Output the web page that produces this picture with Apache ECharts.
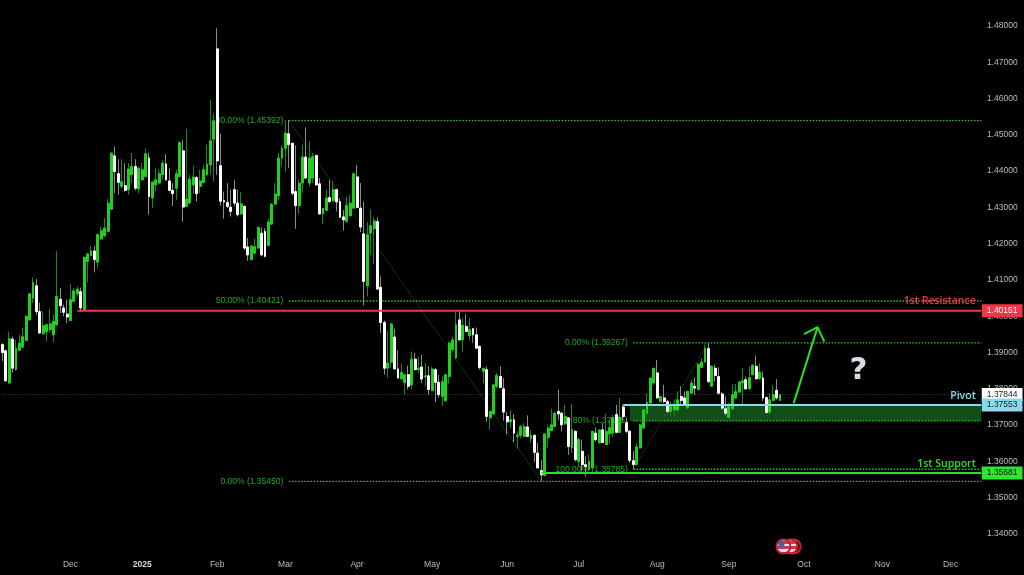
<!DOCTYPE html>
<html><head><meta charset="utf-8">
<style>html,body{margin:0;padding:0;background:#000}#c{width:1024px;height:575px}</style>
<script src="https://cdn.jsdelivr.net/npm/echarts@6/dist/echarts.min.js"></script>
</head><body><div id="c"></div>
<script>
const opens=[1.3922,1.3905,1.3816,1.3937,1.3853,1.3906,1.3915,1.3933,1.3990,1.4050,
1.4084,1.4013,1.3952,1.3958,1.3963,1.3949,1.3976,1.4047,1.4023,1.4006,
1.3988,1.4041,1.4062,1.4068,1.4018,1.4151,1.4167,1.4180,1.4149,1.4213,
1.4222,1.4234,1.4295,1.4442,1.4393,1.4358,1.4360,1.4349,1.4390,1.4413,
1.4351,1.4376,1.4385,1.4436,1.4326,1.4362,1.4367,1.4390,1.4420,1.4373,
1.4347,1.4353,1.4385,1.4456,1.4303,1.4312,1.4362,1.4382,1.4358,1.4369,
1.4390,1.4417,1.4488,1.4737,1.4415,1.4319,1.4314,1.4301,1.4349,1.4312,
1.4282,1.4303,1.4191,1.4156,1.4174,1.4188,1.4229,1.4234,1.4195,1.4254,
1.4309,1.4332,1.4436,1.4463,1.4503,1.4477,1.4344,1.4305,1.4367,1.4439,
1.4367,1.4381,1.4443,1.4365,1.4282,1.4292,1.4327,1.4318,1.4349,1.4316,
1.4274,1.4261,1.4277,1.4298,1.4384,1.4298,1.4227,1.4084,1.4229,1.4241,
1.4261,1.4080,1.3983,1.3857,1.3873,1.3943,1.3855,1.3828,1.3817,1.3839,
1.3811,1.3882,1.3853,1.3860,1.3833,1.3836,1.3795,1.3853,1.3818,1.3779,
1.3767,1.3834,1.3908,1.3885,1.3990,1.3935,1.3972,1.3947,1.3966,1.3949,
1.3917,1.3848,1.3853,1.3720,1.3731,1.3807,1.3834,1.3800,1.3724,1.3709,
1.3715,1.3669,1.3672,1.3669,1.3695,1.3663,1.3672,1.3623,1.3575,1.3561,
1.3666,1.3685,1.3696,1.3738,1.3733,1.3703,1.3720,1.3637,1.3683,1.3600,
1.3628,1.3591,1.3577,1.3582,1.3678,1.3651,1.3687,1.3646,1.3676,1.3678,
1.3729,1.3680,1.3750,1.3707,1.3683,1.3602,1.3591,1.3637,1.3692,1.3733,
1.3761,1.3816,1.3844,1.3765,1.3775,1.3765,1.3738,1.3742,1.3742,1.3779,
1.3775,1.3747,1.3788,1.3807,1.3798,1.3859,1.3874,1.3911,1.3807,1.3857,
1.3834,1.3786,1.3745,1.3721,1.3745,1.3775,1.3791,1.3816,1.3825,1.3800,
1.3839,1.3862,1.3828,1.3830,1.3776,1.3736,1.3768,1.3796,1.3768];
const highs=[1.3926,1.3908,1.3958,1.3944,1.3935,1.3949,1.3968,1.4004,1.4065,1.4107,
1.4103,1.4037,1.4015,1.3977,1.4021,1.4004,1.4179,1.4078,1.4032,1.4046,
1.4089,1.4076,1.4082,1.4079,1.4165,1.4174,1.4194,1.4194,1.4229,1.4246,
1.4271,1.4324,1.4451,1.4468,1.4433,1.4433,1.4422,1.4422,1.4450,1.4433,
1.4413,1.4422,1.4463,1.4450,1.4373,1.4408,1.4404,1.4431,1.4447,1.4408,
1.4367,1.4404,1.4482,1.4486,1.4517,1.4390,1.4415,1.4387,1.4404,1.4416,
1.4473,1.4596,1.4558,1.4794,1.4503,1.4344,1.4367,1.4349,1.4376,1.4349,
1.4342,1.4305,1.4216,1.4194,1.4214,1.4247,1.4245,1.4243,1.4269,1.4312,
1.4367,1.4450,1.4471,1.4541,1.4541,1.4477,1.4471,1.4376,1.4473,1.4520,
1.4482,1.4450,1.4445,1.4381,1.4298,1.4349,1.4376,1.4373,1.4351,1.4326,
1.4293,1.4330,1.4335,1.4396,1.4417,1.4367,1.4316,1.4260,1.4295,1.4272,
1.4273,1.4110,1.3988,1.3960,1.3981,1.3966,1.3906,1.3869,1.3839,1.3864,
1.3903,1.3899,1.3889,1.3894,1.3871,1.3862,1.3860,1.3857,1.3839,1.3834,
1.3839,1.3931,1.3944,1.4013,1.4015,1.3995,1.4006,1.3995,1.3966,1.3969,
1.3920,1.3857,1.3862,1.3740,1.3813,1.3844,1.3862,1.3830,1.3736,1.3742,
1.3731,1.3683,1.3701,1.3706,1.3727,1.3687,1.3674,1.3651,1.3605,1.3676,
1.3701,1.3745,1.3736,1.3798,1.3736,1.3756,1.3721,1.3759,1.3685,1.3665,
1.3660,1.3614,1.3619,1.3685,1.3694,1.3687,1.3706,1.3731,1.3715,1.3729,
1.3756,1.3775,1.3756,1.3720,1.3687,1.3628,1.3651,1.3704,1.3744,1.3787,
1.3830,1.3857,1.3880,1.3779,1.3811,1.3770,1.3765,1.3770,1.3793,1.3807,
1.3793,1.3795,1.3825,1.3831,1.3871,1.3885,1.3922,1.3927,1.3866,1.3866,
1.3859,1.3791,1.3779,1.3761,1.3813,1.3814,1.3820,1.3857,1.3834,1.3862,
1.3868,1.3891,1.3871,1.3848,1.3779,1.3788,1.3811,1.3827,1.3786];
const lows=[1.3876,1.3820,1.3814,1.3844,1.3850,1.3905,1.3913,1.3932,1.3988,1.4037,
1.4004,1.3952,1.3949,1.3931,1.3955,1.3928,1.3974,1.4009,1.4000,1.3981,
1.3987,1.4039,1.4055,1.4013,1.4016,1.4093,1.4165,1.4121,1.4131,1.4211,
1.4218,1.4232,1.4293,1.4339,1.4335,1.4353,1.4344,1.4335,1.4367,1.4347,
1.4339,1.4373,1.4384,1.4280,1.4298,1.4344,1.4365,1.4376,1.4374,1.4344,
1.4304,1.4321,1.4384,1.4261,1.4301,1.4310,1.4339,1.4316,1.4339,1.4367,
1.4387,1.4390,1.4371,1.4390,1.4304,1.4269,1.4298,1.4275,1.4303,1.4275,
1.4280,1.4183,1.4153,1.4154,1.4172,1.4186,1.4165,1.4163,1.4193,1.4252,
1.4307,1.4321,1.4413,1.4398,1.4408,1.4333,1.4241,1.4282,1.4340,1.4379,
1.4358,1.4367,1.4360,1.4280,1.4254,1.4289,1.4313,1.4316,1.4289,1.4271,
1.4236,1.4260,1.4275,1.4296,1.4298,1.4232,1.4030,1.4055,1.4169,1.4144,
1.4073,1.3954,1.3839,1.3830,1.3858,1.3853,1.3828,1.3825,1.3784,1.3798,
1.3799,1.3851,1.3844,1.3816,1.3807,1.3784,1.3793,1.3763,1.3776,1.3752,
1.3765,1.3814,1.3903,1.3883,1.3933,1.3903,1.3957,1.3933,1.3927,1.3911,
1.3853,1.3816,1.3710,1.3687,1.3729,1.3802,1.3802,1.3712,1.3675,1.3692,
1.3653,1.3635,1.3663,1.3666,1.3667,1.3651,1.3598,1.3580,1.3545,1.3559,
1.3637,1.3683,1.3694,1.3715,1.3683,1.3701,1.3618,1.3624,1.3600,1.3586,
1.3572,1.3559,1.3575,1.3580,1.3655,1.3650,1.3651,1.3645,1.3649,1.3667,
1.3678,1.3678,1.3710,1.3678,1.3596,1.3577,1.3589,1.3635,1.3689,1.3731,
1.3758,1.3811,1.3773,1.3763,1.3761,1.3733,1.3724,1.3724,1.3738,1.3756,
1.3753,1.3746,1.3787,1.3784,1.3796,1.3857,1.3871,1.3816,1.3805,1.3820,
1.3784,1.3742,1.3727,1.3720,1.3742,1.3773,1.3788,1.3756,1.3798,1.3798,
1.3837,1.3825,1.3825,1.3767,1.3733,1.3729,1.3765,1.3770,1.3767];
const closes=[1.3900,1.3822,1.3938,1.3857,1.3912,1.3926,1.3944,1.4000,1.4062,1.4093,
1.4013,1.3954,1.3974,1.3977,1.3979,1.3986,1.4055,1.4029,1.4011,1.3998,
1.4046,1.4070,1.4075,1.4023,1.4162,1.4172,1.4180,1.4156,1.4225,1.4236,
1.4243,1.4312,1.4450,1.4399,1.4369,1.4371,1.4347,1.4406,1.4413,1.4353,
1.4408,1.4404,1.4448,1.4330,1.4370,1.4376,1.4393,1.4422,1.4376,1.4347,
1.4338,1.4393,1.4479,1.4301,1.4323,1.4378,1.4384,1.4338,1.4373,1.4404,
1.4419,1.4484,1.4539,1.4428,1.4317,1.4315,1.4303,1.4289,1.4312,1.4280,
1.4310,1.4188,1.4169,1.4194,1.4192,1.4245,1.4169,1.4165,1.4260,1.4309,
1.4337,1.4436,1.4463,1.4505,1.4473,1.4339,1.4305,1.4367,1.4439,1.4381,
1.4436,1.4440,1.4362,1.4282,1.4298,1.4326,1.4316,1.4349,1.4315,1.4273,
1.4266,1.4305,1.4312,1.4393,1.4300,1.4246,1.4096,1.4225,1.4250,1.4263,
1.4075,1.3983,1.3857,1.3871,1.3979,1.3855,1.3830,1.3845,1.3839,1.3807,
1.3882,1.3853,1.3857,1.3827,1.3836,1.3798,1.3855,1.3818,1.3784,1.3820,
1.3839,1.3926,1.3935,1.3977,1.3935,1.3975,1.3958,1.3963,1.3949,1.3912,
1.3859,1.3857,1.3724,1.3738,1.3811,1.3837,1.3804,1.3736,1.3709,1.3715,
1.3678,1.3672,1.3696,1.3696,1.3669,1.3672,1.3625,1.3582,1.3563,1.3676,
1.3692,1.3701,1.3733,1.3731,1.3701,1.3724,1.3641,1.3687,1.3605,1.3660,
1.3591,1.3586,1.3600,1.3683,1.3660,1.3687,1.3652,1.3683,1.3693,1.3720,
1.3680,1.3722,1.3724,1.3683,1.3603,1.3591,1.3640,1.3701,1.3742,1.3763,
1.3830,1.3857,1.3775,1.3779,1.3765,1.3738,1.3756,1.3752,1.3770,1.3768,
1.3756,1.3793,1.3816,1.3802,1.3868,1.3874,1.3912,1.3820,1.3862,1.3837,
1.3788,1.3747,1.3733,1.3752,1.3784,1.3793,1.3819,1.3822,1.3800,1.3831,
1.3865,1.3828,1.3846,1.3775,1.3735,1.3770,1.3784,1.3775,1.3784];

const tickIndex=[20,41,63,83,104,126,148,169,192,213,235,258,278];
const tickLabels=['Dec','2025','Feb','Mar','Apr','May','Jun','Jul','Aug','Sep','Oct','Nov','Dec'];
const slotCount=288, lastSlot=287;
const categories=Array.from({length:slotCount},(_,i)=>{const k=tickIndex.indexOf(i);return k<0?'':tickLabels[k];});

const fibPrices=[1.45392,1.40421,1.35450,1.39267,1.37115,1.35785];
const fibStarts=[84,84,84,185,185,185];
const fibCaptions=['100.00% (1.45392)','50.00% (1.40421)','0.00% (1.35450)','0.00% (1.39267)','61.80% (1.37115)','100.00% (1.35785)'];
const fibDiagonals=[[[84,1.45392],[158,1.35450]],[[185,1.35785],[207,1.39267]]];

const resistance=1.40151, pivot=1.37553, support=1.35681, lastPrice=1.37844, zoneLow=1.37115;
const resistanceStart=22, pivotStart=182, supportStart=158, zoneStart=184;
const arrowShaft=[[232,1.37606],[239,1.39700]];
const arrowHead=[[235,1.39507],[239,1.39700],[241,1.39303]];
const questionPoint=[251,1.3850];
const eventPrice=1.33656, eventSlots=[232,231,229];

const C={up:'#1fd01f',upWick:'#178a17',down:'#ffffff',downWick:'#8c8c8c',fib:'#20cc20',fibText:'#22a822',
 red:'#f23645',cyan:'#86dcec',green:'#28e028',grid:'#bcbcbc',zone:'#124f18',font:'"Liberation Sans",Arial,sans-serif'};

const line=(data,color,width,type,z)=>({type:'line',data,showSymbol:false,symbol:'none',silent:true,animation:false,z,
  lineStyle:{color,width,type,cap:'butt'},clip:false});
const text=(pt,label,z)=>({type:'scatter',data:[pt],symbolSize:1,itemStyle:{color:'transparent',opacity:1},silent:true,z,clip:false,animation:false,
  label:Object.assign({show:true,fontFamily:C.font},label)});
const tag=(price,val,bg,col)=>text([lastSlot,price],{position:'right',distance:0,formatter:val,backgroundColor:bg,color:col,
  fontSize:8.5,lineHeight:9,padding:[2,5,2,5]},20);

const wicks=opens.map((o,i)=>[o,closes[i],lows[i],highs[i]]);
const bodies=opens.map((o,i)=>[o,closes[i],Math.min(o,closes[i]),Math.max(o,closes[i])]);

const series=[];
series.push({type:'custom',silent:true,z:1,clip:false,animation:false,data:[[zoneStart,pivot,lastSlot,zoneLow]],
  encode:{x:[0,2],y:[1,3]},
  renderItem:(p,api)=>{const a=api.coord([api.value(0),api.value(1)]),b=api.coord([api.value(2),api.value(3)]);
    return {type:'rect',shape:{x:a[0],y:a[1],width:b[0]-a[0],height:b[1]-a[1]},style:{fill:C.zone}};}});
fibPrices.forEach((p,i)=>{
  series.push(line([[fibStarts[i],p],[lastSlot,p]],C.fib,1.3,[1.5,1.6],2));
  series.push(text([fibStarts[i],p],{position:'left',distance:5,formatter:fibCaptions[i],color:C.fibText,fontSize:8.5},2));
});
fibDiagonals.forEach(d=>series.push(line(d,'#0f6a0f',1,[1,1],2)));
series.push(line([[0,lastPrice],[lastSlot,lastPrice]],'#4a4a4a',1,[1,2],2));
series.push({type:'candlestick',name:'wicks',data:wicks,barWidth:1,z:3,silent:true,animation:false,
  itemStyle:{color:C.upWick,color0:C.downWick,borderColor:C.upWick,borderColor0:C.downWick,borderWidth:1}});
series.push({type:'candlestick',name:'bodies',data:bodies,barWidth:2.4,z:4,silent:true,animation:false,
  itemStyle:{color:C.up,color0:C.down,borderColor:C.up,borderColor0:C.down,borderColorDoji:C.down,borderWidth:1}});
series.push(line([[resistanceStart,resistance],[lastSlot,resistance]],C.red,2,'solid',5));
series.push(line([[pivotStart,pivot],[lastSlot,pivot]],C.cyan,2,'solid',5));
series.push(line([[supportStart,support],[lastSlot,support]],C.green,2,'solid',5));
series.push(line(arrowShaft,C.green,2,'solid',5));
series.push(line(arrowHead,C.green,2,'solid',5));
const cap={position:'left',distance:5,fontSize:10.5,fontWeight:600,fontFamily:'"Open Sans",sans-serif'};
series.push(text([lastSlot,resistance],Object.assign({},cap,{formatter:'1st Resistance',color:C.red,offset:[0,-10]}),6));
series.push(text([lastSlot,pivot],Object.assign({},cap,{formatter:'Pivot',color:C.cyan,offset:[0,-9]}),6));
series.push(text([lastSlot,support],Object.assign({},cap,{formatter:'1st Support',color:C.green,offset:[0,-9]}),6));
series.push(text(questionPoint,{position:'inside',formatter:'?',color:'#d6dde2',fontSize:31,fontWeight:'bold',fontFamily:'"DejaVu Sans",sans-serif'},6));
series.push(tag(resistance,'1.40151',C.red,'#ffffff'));
series.push(tag(lastPrice,'1.37844','#ffffff','#222222'));
series.push(tag(pivot,'1.37553',C.cyan,'#222222'));
series.push(tag(support,'1.35681','#2ee62e','#111111'));
const band=(stops)=>({type:'linear',x:0,y:0,x2:0,y2:1,colorStops:stops.flatMap((c,i)=>[{offset:i/stops.length,color:c},{offset:(i+1)/stops.length,color:c}])});
const stripes=band(['#d8dce8','#d03848','#e8e8ec','#d03848','#e8e8ec','#d03848']);
const flagCommon={type:'scatter',symbolSize:14,silent:true,clip:false,animation:false};
series.push(Object.assign({},flagCommon,{data:[[eventSlots[0],eventPrice]],z:7,itemStyle:{color:'#3a1216',borderColor:'#c8202f',borderWidth:2,opacity:1}}));
series.push(Object.assign({},flagCommon,{data:[[eventSlots[1],eventPrice]],z:8,itemStyle:{color:stripes,borderColor:'#c8202f',borderWidth:2,opacity:1}}));
series.push(Object.assign({},flagCommon,{data:[[eventSlots[2],eventPrice]],z:9,itemStyle:{color:stripes,borderColor:'#c8202f',borderWidth:2,opacity:1}}));
series.push({type:'scatter',data:[[eventSlots[2],eventPrice]],symbol:'rect',symbolSize:[6,5],symbolOffset:[-2,-2.5],z:10,silent:true,clip:false,animation:false,itemStyle:{color:'#3a62b8',opacity:1}});

const chart=echarts.init(document.getElementById('c'),null,{renderer:'canvas'});
chart.setOption({
  backgroundColor:'#000000',animation:false,
  grid:{left:0.6,top:26,width:982.4,height:508,containLabel:false},
  xAxis:{type:'category',data:categories,boundaryGap:true,axisLine:{show:false},axisTick:{show:false},splitLine:{show:false},
    axisLabel:{show:true,margin:26,color:C.grid,fontSize:8.5,fontFamily:C.font,hideOverlap:false,
      interval:(i)=>tickIndex.includes(i),
      formatter:(v)=>v==='2025'?'{b|2025}':v,
      rich:{b:{fontWeight:'bold',fontSize:8.5,color:'#d8d8d8',fontFamily:C.font}}}},
  yAxis:{type:'value',position:'right',min:1.34,max:1.48,interval:0.01,scale:true,axisLine:{show:false},axisTick:{show:false},splitLine:{show:false},
    axisLabel:{color:C.grid,fontSize:8.5,margin:4,fontFamily:C.font,formatter:(v)=>v.toFixed(5)}},
  series
});
</script></body></html>
